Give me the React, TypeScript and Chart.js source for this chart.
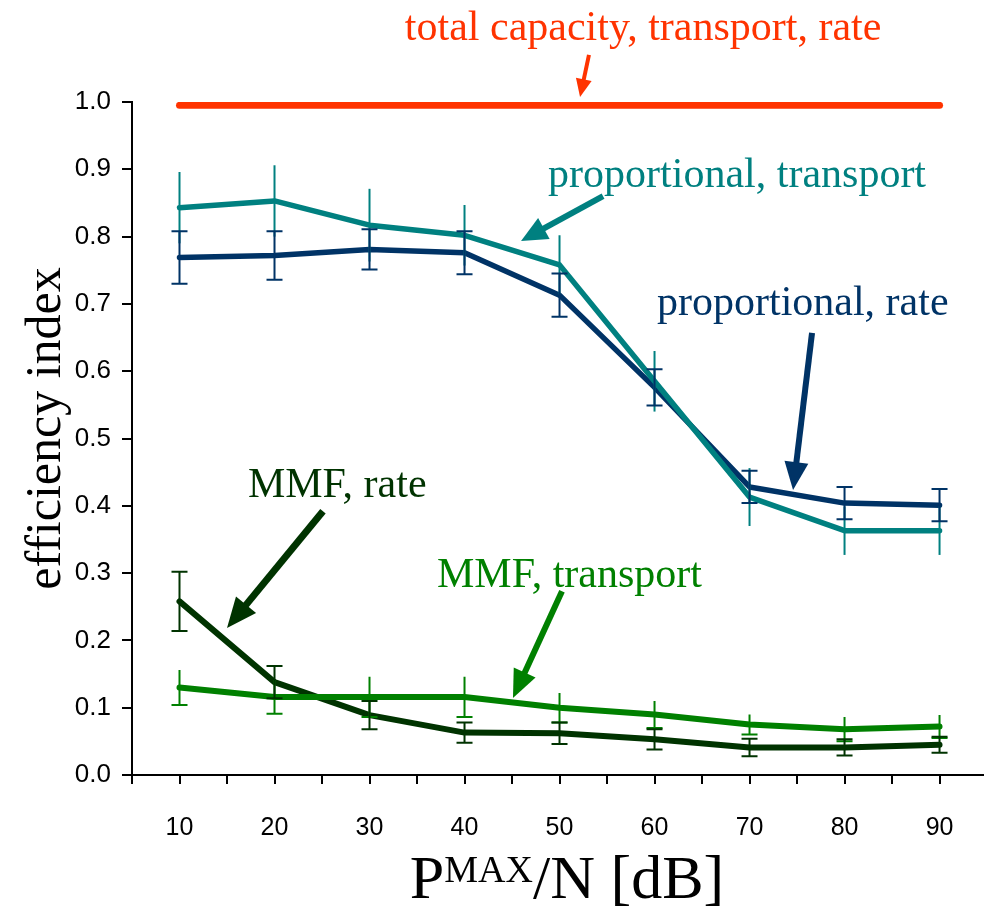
import React, { useEffect, useRef } from "react";
import { Chart, registerables } from "chart.js";

Chart.register(...registerables);

// ---------- data ----------
const xValues = [10, 20, 30, 40, 50, 60, 70, 80, 90];
const xTickLabels = [10, 20, 30, 40, 50, 60, 70, 80, 90];
const yTickValues = [0, 0.1, 0.2, 0.3, 0.4, 0.5, 0.6, 0.7, 0.8, 0.9, 1.0];

const totalCapacity = [0.995, 0.995, 0.995, 0.995, 0.995, 0.995, 0.995, 0.995, 0.995];

const propTransport = [0.843, 0.853, 0.817, 0.802, 0.758, 0.585, 0.413, 0.363, 0.363];
const propTransportErr = [0.053, 0.053, 0.054, 0.045, 0.044, 0.045, 0.043, 0.036, 0.036];

const propRate = [0.769, 0.772, 0.781, 0.776, 0.713, 0.576, 0.428, 0.404, 0.401];
const propRateErr = [0.039, 0.036, 0.03, 0.032, 0.032, 0.027, 0.024, 0.024, 0.024];

const mmfTransport = [0.13, 0.116, 0.116, 0.116, 0.1, 0.09, 0.075, 0.068, 0.072];
const mmfTransportErr = [0.026, 0.025, 0.03, 0.03, 0.022, 0.02, 0.015, 0.018, 0.017];

const mmfRate = [0.258, 0.138, 0.089, 0.063, 0.062, 0.053, 0.041, 0.041, 0.045];
const mmfRateErr = [0.044, 0.024, 0.021, 0.015, 0.016, 0.015, 0.013, 0.012, 0.012];

// ---------- styles ----------
const RED = "#ff3300";
const TEAL = "#008080";
const NAVY = "#003366";
const DARKGREEN = "#003300";
const GREEN = "#008000";

const SERIF = '"Liberation Serif", "Times New Roman", serif';
const SANS = '"Liberation Sans", Arial, sans-serif';

type ErrSpec = { values: number[]; err: number[]; color: string; capTop: boolean; capBottom: boolean };
const errorBars: ErrSpec[] = [
  { values: propTransport, err: propTransportErr, color: TEAL, capTop: false, capBottom: false },
  { values: propRate, err: propRateErr, color: NAVY, capTop: true, capBottom: true },
  { values: mmfTransport, err: mmfTransportErr, color: GREEN, capTop: false, capBottom: true },
  { values: mmfRate, err: mmfRateErr, color: DARKGREEN, capTop: true, capBottom: true },
];

// annotations in data coordinates
type Note = { text: string; x: number; y: number; align: CanvasTextAlign; color: string };
const notes: Note[] = [
  { text: "total capacity, transport, rate", x: 58.8, y: 1.092, align: "center", color: RED },
  { text: "proportional, transport", x: 48.8, y: 0.873, align: "left", color: TEAL },
  { text: "proportional, rate", x: 60.26, y: 0.683, align: "left", color: NAVY },
  { text: "MMF, rate", x: 17.2, y: 0.413, align: "left", color: DARKGREEN },
  { text: "MMF, transport", x: 37.1, y: 0.279, align: "left", color: GREEN },
];

type Arrow = { x0: number; y0: number; x1: number; y1: number; color: string; w: number; head: number; half: number };
const arrows: Arrow[] = [
  { x0: 53.1, y0: 1.07, x1: 52.16, y1: 1.0074, color: RED, w: 4, head: 18, half: 8 },
  { x0: 54.58, y0: 0.86, x1: 45.95, y1: 0.7935, color: TEAL, w: 6, head: 26, half: 12 },
  { x0: 76.58, y0: 0.6568, x1: 74.58, y1: 0.4235, color: NAVY, w: 6, head: 28, half: 12 },
  { x0: 25.1, y0: 0.392, x1: 15.0, y1: 0.2184, color: DARKGREEN, w: 7, head: 30, half: 13 },
  { x0: 50.26, y0: 0.273, x1: 45.1, y1: 0.1144, color: GREEN, w: 6, head: 28, half: 12 },
];

const pts = (vals: number[]) => xValues.map((x, i) => ({ x, y: vals[i] }));

const overlayPlugin = {
  id: "overlay",
  afterDatasetsDraw(chart: any) {
    const ctx: CanvasRenderingContext2D = chart.ctx;
    const xs = chart.scales.x;
    const ys = chart.scales.y;
    ctx.save();
    for (const eb of errorBars) {
      ctx.strokeStyle = eb.color;
      ctx.lineWidth = 2;
      ctx.lineCap = "butt";
      xValues.forEach((xv, i) => {
        const px = xs.getPixelForValue(xv);
        const top = ys.getPixelForValue(eb.values[i] + eb.err[i]);
        const bot = ys.getPixelForValue(eb.values[i] - eb.err[i]);
        ctx.beginPath();
        ctx.moveTo(px, top);
        ctx.lineTo(px, bot);
        if (eb.capTop) {
          ctx.moveTo(px - 8, top);
          ctx.lineTo(px + 8, top);
        }
        if (eb.capBottom) {
          ctx.moveTo(px - 8, bot);
          ctx.lineTo(px + 8, bot);
        }
        ctx.stroke();
      });
    }
    ctx.restore();
  },
  afterDraw(chart: any) {
    const ctx: CanvasRenderingContext2D = chart.ctx;
    const xs = chart.scales.x;
    const ys = chart.scales.y;
    const area = chart.chartArea;
    ctx.save();
    // tick labels
    ctx.fillStyle = "#000";
    ctx.font = `26px ${SANS}`;
    ctx.textAlign = "right";
    ctx.textBaseline = "middle";
    for (const v of yTickValues) {
      ctx.fillText(v.toFixed(1), area.left - 21, ys.getPixelForValue(v));
    }
    ctx.font = `25px ${SANS}`;
    ctx.textAlign = "center";
    for (const v of xTickLabels) {
      ctx.fillText(String(v), xs.getPixelForValue(v), area.bottom + 53);
    }
    // y title
    ctx.save();
    ctx.translate(47, (area.top + area.bottom) / 2 - 10);
    ctx.rotate(-Math.PI / 2);
    ctx.font = `50px ${SERIF}`;
    ctx.textAlign = "center";
    ctx.textBaseline = "middle";
    ctx.fillText("efficiency index", 0, 0);
    ctx.restore();
    // x title with superscript
    const big = `62px ${SERIF}`;
    const small = `38px ${SERIF}`;
    ctx.textAlign = "left";
    ctx.textBaseline = "alphabetic";
    ctx.font = big;
    const wP = ctx.measureText("P").width;
    const wRest = ctx.measureText("/N [dB]").width;
    ctx.font = small;
    const wSup = ctx.measureText("MAX").width;
    const total = wP + wSup + wRest;
    let sx = 567 - total / 2;
    const base = area.bottom + 123;
    ctx.font = big;
    ctx.fillText("P", sx, base);
    sx += wP;
    ctx.font = small;
    ctx.fillText("MAX", sx, base - 16);
    sx += wSup;
    ctx.font = big;
    ctx.fillText("/N [dB]", sx, base);
    // annotations
    ctx.font = `42px ${SERIF}`;
    for (const n of notes) {
      ctx.fillStyle = n.color;
      ctx.textAlign = n.align;
      ctx.fillText(n.text, xs.getPixelForValue(n.x), ys.getPixelForValue(n.y));
    }
    // arrows
    for (const a of arrows) {
      const x0 = xs.getPixelForValue(a.x0);
      const y0 = ys.getPixelForValue(a.y0);
      const x1 = xs.getPixelForValue(a.x1);
      const y1 = ys.getPixelForValue(a.y1);
      const dx = x1 - x0;
      const dy = y1 - y0;
      const len = Math.hypot(dx, dy);
      const ux = dx / len;
      const uy = dy / len;
      const bx = x1 - ux * a.head;
      const by = y1 - uy * a.head;
      ctx.strokeStyle = a.color;
      ctx.fillStyle = a.color;
      ctx.lineWidth = a.w;
      ctx.lineCap = "butt";
      ctx.beginPath();
      ctx.moveTo(x0, y0);
      ctx.lineTo(bx + ux * 2, by + uy * 2);
      ctx.stroke();
      ctx.beginPath();
      ctx.moveTo(x1, y1);
      ctx.lineTo(bx - uy * a.half, by + ux * a.half);
      ctx.lineTo(bx + uy * a.half, by - ux * a.half);
      ctx.closePath();
      ctx.fill();
    }
    ctx.restore();
  },
};

export default function App() {
  const ref = useRef<HTMLCanvasElement | null>(null);
  useEffect(() => {
    if (!ref.current) return;
    const line = (vals: number[], color: string, width: number) => ({
      data: pts(vals),
      borderColor: color,
      backgroundColor: color,
      borderWidth: width,
      pointRadius: 0,
      borderCapStyle: "round" as const,
      borderJoinStyle: "round" as const,
      tension: 0,
      fill: false,
    });
    const chart = new Chart(ref.current, {
      type: "line",
      data: {
        datasets: [
          line(totalCapacity, RED, 7),
          line(propTransport, TEAL, 5.5),
          line(propRate, NAVY, 5.5),
          line(mmfTransport, GREEN, 6),
          line(mmfRate, DARKGREEN, 6),
        ],
      },
      options: {
        animation: false,
        responsive: false,
        events: [],
        layout: { padding: { top: 102, left: 0, right: 0, bottom: 0 } },
        plugins: { legend: { display: false }, tooltip: { enabled: false }, title: { display: false } },
        scales: {
          x: {
            type: "linear",
            min: 5,
            max: 94.68,
            ticks: { stepSize: 5, includeBounds: false, display: false },
            grid: { display: true, drawOnChartArea: false, drawTicks: true, tickLength: 9, color: "#000", lineWidth: 2 },
            border: { display: true, color: "#000", width: 2 },
            afterFit: (s: any) => {
              s.height = 135;
            },
          },
          y: {
            type: "linear",
            min: 0,
            max: 1,
            ticks: { stepSize: 0.1, display: false },
            grid: { display: true, drawOnChartArea: false, drawTicks: true, tickLength: 10, color: "#000", lineWidth: 2 },
            border: { display: true, color: "#000", width: 2 },
            afterFit: (s: any) => {
              s.width = 132;
            },
          },
        },
      },
      plugins: [overlayPlugin],
    });
    return () => chart.destroy();
  }, []);
  return (
    <div style={{ position: "absolute", left: 0, top: 0, width: 984, height: 910, background: "#fff" }}>
      <canvas ref={ref} width={984} height={910} style={{ display: "block" }} />
    </div>
  );
}
